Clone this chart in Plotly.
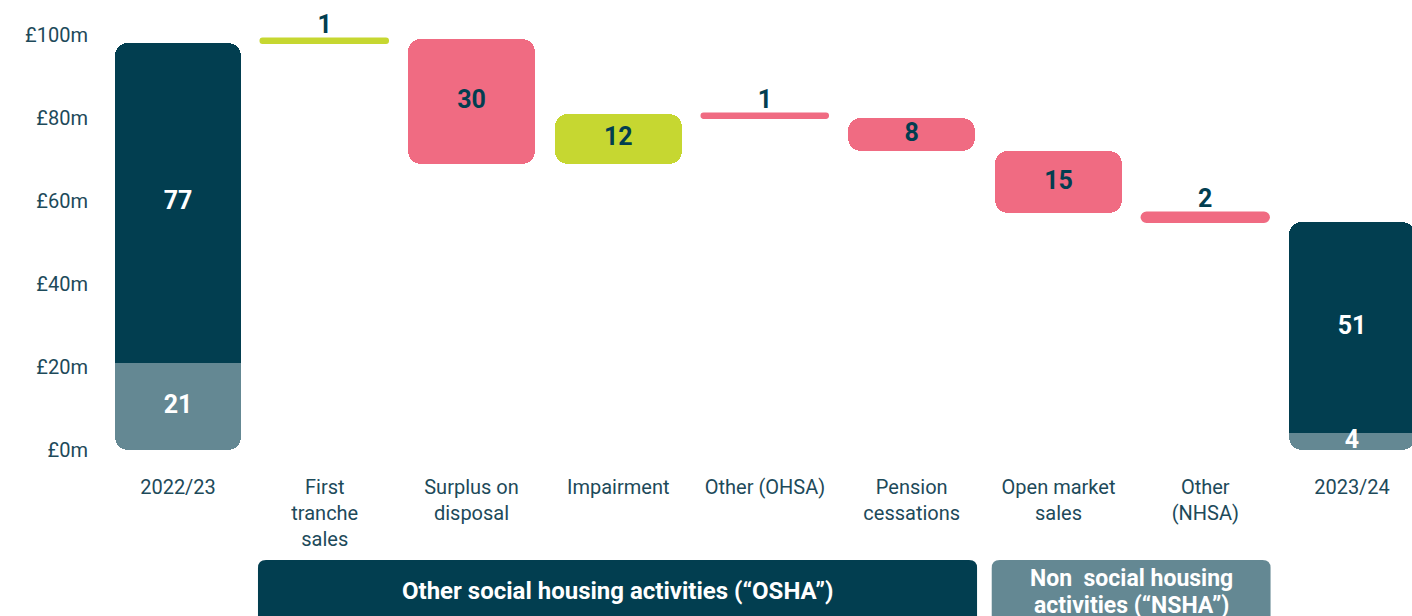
import plotly.graph_objects as go

# ---- data ----
categories = ["2022/23", "First<br>tranche<br>sales", "Surplus on<br>disposal", "Impairment",
              "Other (OHSA)", "Pension<br>cessations", "Open market<br>sales", "Other<br>(NHSA)", "2023/24"]
opening_nhsa = 21
opening_osha = 77
changes = [1, -30, 12, -1, -8, -15, -2]
closing_nhsa = 4
closing_osha = 51
y_tick_values = [0, 20, 40, 60, 80, 100]
y_tick_labels = ["£0m", "£20m", "£40m", "£60m", "£80m", "£100m"]
group_lines = [["Other social housing activities (“OSHA”)"],
               ["Non  social housing", "activities (“NSHA”)"]]
group_first = [1, 6]
group_last = [5, 7]

# ---- style ----
DARK = "#023e50"
SLATE = "#648893"
PINK = "#f06b82"
GREEN = "#c6d731"
TXT = "#1d4a5a"
FONT = "Roboto"
BW = 0.865
CR = 13

W, H = 1412, 616
ML, MR, MT, MB = 100, 0, 0, 151
plot_w = W - ML - MR
plot_h = H - MT - MB
px_per_unit_x = 146.75
x0 = -78 / px_per_unit_x
x1 = x0 + plot_w / px_per_unit_x
px_per_unit_y = 4.15
y1 = 450 / px_per_unit_y
y0 = y1 - plot_h / px_per_unit_y

fig = go.Figure()

def add_bar(x, base, y, color, radius=CR, lw=0):
    fig.add_trace(go.Bar(x=[x], y=[y], base=[base], width=BW,
                         marker=dict(color=color, cornerradius=radius, line=dict(width=lw, color=color)),
                         hoverinfo="skip", showlegend=False))

label_x, label_y, label_t, label_c, label_pos = [], [], [], [], []

def total_bar(x, nhsa, osha):
    # light part (rounded bottom); its upper end is hidden beneath the dark part
    add_bar(x, 0, nhsa + osha / 2, SLATE)
    # dark part (rounded top) with a square piece hiding its lower corners
    add_bar(x, nhsa, osha, DARK)
    add_bar(x, nhsa, osha * 0.75, DARK, radius=0)
    label_x.extend([x, x])
    label_y.extend([nhsa / 2, nhsa + osha / 2])
    label_t.extend([str(nhsa), str(osha)])
    label_c.extend(["white", "white"])
    label_pos.extend(["middle center"] * 2)

total_bar(0, opening_nhsa, opening_osha)

running = opening_nhsa + opening_osha
for i, c in enumerate(changes):
    x = i + 1
    lo, hi = min(running, running + c), max(running, running + c)
    h = hi - lo
    col = GREEN if c > 0 else PINK
    thin = h <= 2
    add_bar(x, lo, h, col, lw=2.5 if thin else 0)
    label_x.append(x)
    label_t.append(str(abs(c)))
    label_c.append(DARK)
    if thin:
        label_y.append(hi)
        label_pos.append("top center")
    else:
        label_y.append((lo + hi) / 2)
        label_pos.append("middle center")
    running += c

total_bar(len(categories) - 1, closing_nhsa, closing_osha)

fig.add_trace(go.Scatter(x=label_x, y=label_y, text=label_t, mode="text", textposition=label_pos,
                         textfont=dict(family=FONT, size=25, color=label_c, weight="bold"),
                         cliponaxis=False, hoverinfo="skip", showlegend=False))

# group boxes
def xp(u):
    return (u - x0) / (x1 - x0)

def yp(pix):
    return (MT + plot_h - pix) / plot_h

rx, ry = 8 / plot_w, 8 / plot_h
for lines, a, b, col in zip(group_lines, group_first, group_last, [DARK, SLATE]):
    L = xp(a - 0.455)
    R = xp(b + 0.445)
    T = yp(560)
    B = yp(640)
    path = (f"M {L},{B} L {L},{T - ry} Q {L},{T} {L + rx},{T} L {R - rx},{T} Q {R},{T} {R},{T - ry} L {R},{B} Z")
    fig.add_shape(type="path", path=path, xref="paper", yref="paper", fillcolor=col, line=dict(width=0), layer="above")
    if len(lines) == 1:
        ys, fs = [591], 24
    else:
        ys, fs = [578, 605], 23
    for txt, yy in zip(lines, ys):
        fig.add_annotation(x=(L + R) / 2, y=yp(yy), xref="paper", yref="paper", text=txt, showarrow=False,
                           font=dict(family=FONT, size=fs, color="white", weight="bold"),
                           xanchor="center", yanchor="middle")

fig.update_layout(
    width=W, height=H, margin=dict(l=ML, r=MR, t=MT, b=MB),
    barmode="overlay", bargap=0,
    plot_bgcolor="white", paper_bgcolor="white",
    xaxis=dict(range=[x0, x1], tickvals=list(range(len(categories))), ticktext=categories,
               showgrid=False, zeroline=False, showline=False, ticks="",
               tickfont=dict(family=FONT, size=20, color=TXT), ticklabelstandoff=8),
    yaxis=dict(range=[y0, y1], tickvals=y_tick_values, ticktext=y_tick_labels,
               showgrid=False, zeroline=False, showline=False, ticks="",
               tickfont=dict(family=FONT, size=20, color=TXT), ticklabelstandoff=11),
    font=dict(family=FONT),
)

fig.write_html("out.html", config={"displayModeBar": False},
               post_script="document.body.style.margin='0';document.body.style.overflow='hidden';")
